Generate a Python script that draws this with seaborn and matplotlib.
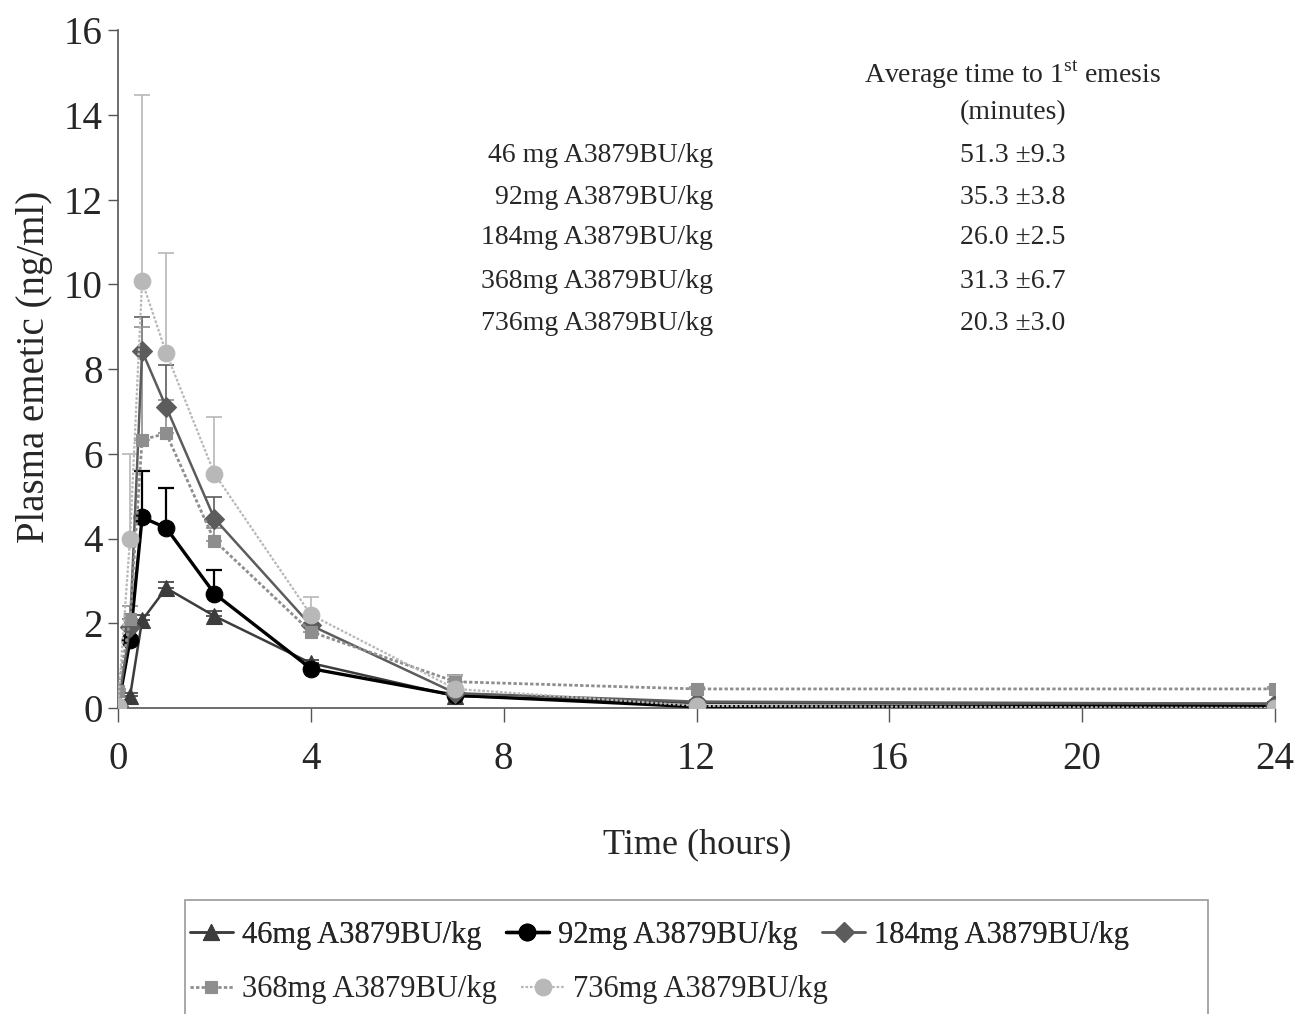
import numpy as np
import pandas as pd
import matplotlib
matplotlib.use("Agg")
import matplotlib.pyplot as plt
from matplotlib.patches import Rectangle
import seaborn as sns

# ---- data ----
time_h = [0, 0.25, 0.5, 1, 2, 4, 7, 12, 24]
dose_labels = ["46mg A3879BU/kg", "92mg A3879BU/kg", "184mg A3879BU/kg",
               "368mg A3879BU/kg", "736mg A3879BU/kg"]
mg46 = [0.02, 0.28, 2.07, 2.83, 2.17, 1.06, 0.28, 0.12, 0.10]
mg46_err = [0.02, 0.08, 0.12, 0.15, 0.12, 0.08, 0.05, 0.04, 0.04]
mg92 = [0.02, 1.60, 4.50, 4.25, 2.70, 0.93, 0.30, 0.03, 0.05]
mg92_err = [0.02, 0.30, 1.10, 0.95, 0.55, 0.10, 0.05, 0.02, 0.03]
mg184 = [0.05, 1.90, 8.42, 7.10, 4.47, 1.95, 0.35, 0.15, 0.10]
mg184_err = [0.05, 0.20, 0.80, 1.00, 0.50, 0.20, 0.10, 0.05, 0.05]
mg368 = [0.40, 2.10, 6.33, 6.48, 3.95, 1.80, 0.62, 0.45, 0.45]
mg368_err = [0.05, 0.30, 2.65, 0.80, 0.30, 0.20, 0.15, 0.05, 0.05]
mg736 = [0.05, 4.00, 10.07, 8.38, 5.53, 2.20, 0.45, 0.05, 0.00]
mg736_err = [0.05, 2.00, 4.40, 2.35, 1.33, 0.42, 0.30, 0.05, 0.05]

table_labels = ["46 mg A3879BU/kg", "92mg A3879BU/kg", "184mg A3879BU/kg",
                "368mg A3879BU/kg", "736mg A3879BU/kg"]
table_values = ["51.3 \u00b19.3", "35.3 \u00b13.8", "26.0 \u00b12.5",
                "31.3 \u00b16.7", "20.3 \u00b13.0"]

series = [mg46, mg92, mg184, mg368, mg736]
errors = [mg46_err, mg92_err, mg184_err, mg368_err, mg736_err]

# ---- styles ----
colors = ["#3c3c3c", "#000000", "#5c5c5c", "#8e8e8e", "#b8b8b8"]
markers = ["^", "o", "D", "s", "o"]
msizes = [11, 12, 10, 9, 12]
lstyles = ["-", "-", "-", (0, (1.2, 0.8)), (0, (1.2, 0.8))]
lwidths = [1.8, 2.4, 1.8, 2.0, 1.6]

sns.set_style("white")
plt.rcParams["font.family"] = ["Liberation Serif", "DejaVu Serif"]
plt.rcParams["mathtext.fontset"] = "custom"
plt.rcParams["mathtext.rm"] = "Liberation Serif"

W, H = 1297, 1014
fig = plt.figure(figsize=(W / 100, H / 100), dpi=100)
ax = fig.add_axes([118 / W, 1 - 708 / H, (1275 - 118) / W, (708 - 30) / H])

for vals, err, lab, c, m, ms, ls, lw in zip(series, errors, dose_labels, colors,
                                           markers, msizes, lstyles, lwidths):
    df = pd.DataFrame({"t": time_h, "v": vals})
    sns.lineplot(data=df, x="t", y="v", ax=ax, color=c, marker=m, markersize=ms,
                 linestyle=ls, linewidth=lw, label=lab, markeredgecolor=c,
                 markeredgewidth=0.8, zorder=3)
    ax.errorbar(time_h, vals, yerr=[np.zeros(len(vals)), err], fmt="none",
                ecolor=c, elinewidth=1.6 if c == "#000000" else 1.2,
                capsize=6, capthick=1.6 if c == "#000000" else 1.2, zorder=2)

ax.set_xlim(0, 24)
ax.set_ylim(0, 16)
ax.set_xticks([0, 4, 8, 12, 16, 20, 24])
ax.set_yticks(range(0, 17, 2))
for s in ["top", "right"]:
    ax.spines[s].set_visible(False)
for s in ["left", "bottom"]:
    ax.spines[s].set_color("#555555")
    ax.spines[s].set_linewidth(1.2)
ax.tick_params(axis="x", direction="out", length=10, width=1, color="#555555",
               labelsize=28, pad=14, bottom=True)
ax.tick_params(axis="y", direction="out", length=7, width=1, color="#555555",
               labelsize=28, pad=4, left=True)
ax.set_xlabel("")
ax.set_ylabel("")

fig.text(35 / W, 1 - 367 / H, "Plasma emetic (ng/ml)", rotation=90,
         ha="center", va="center", fontsize=28)
fig.text(697 / W, 1 - 845 / H, "Time (hours)", ha="center", va="center",
         fontsize=26)

# annotation table
fig.text(1013 / W, 1 - 75 / H, r"Average time to 1$^{\mathrm{st}}$ emesis",
         ha="center", va="center", fontsize=20)
fig.text(1013 / W, 1 - 113 / H, "(minutes)", ha="center", va="center",
         fontsize=20)
ys = [155, 197, 238, 281, 323]
for y, lab, val in zip(ys, table_labels, table_values):
    fig.text(713 / W, 1 - y / H, lab, ha="right", va="center", fontsize=20)
    fig.text(1013 / W, 1 - y / H, val, ha="center", va="center", fontsize=20)

# legend: flow layout, two rows inside one frame
ax.get_legend().remove()
handles, labels = ax.get_legend_handles_labels()
common = dict(fontsize=22, frameon=False, handlelength=1.4, handletextpad=0.3,
              columnspacing=0.8, borderpad=0.0, borderaxespad=0.0)
leg1 = fig.legend(handles[:3], labels[:3], loc="center left",
                  bbox_to_anchor=(190 / W, 1 - 935 / H), ncol=3, **common)
leg2 = fig.legend(handles[3:], labels[3:], loc="center left",
                  bbox_to_anchor=(190 / W, 1 - 990 / H), ncol=2, **common)
fig.add_artist(leg1)
frame = Rectangle((185 / W, -0.02), (1208 - 185) / W, (1014 - 900) / H + 0.02,
                  transform=fig.transFigure, fill=False, edgecolor="#999999",
                  linewidth=1.2)
fig.add_artist(frame)

fig.savefig("out.png", dpi=100)
